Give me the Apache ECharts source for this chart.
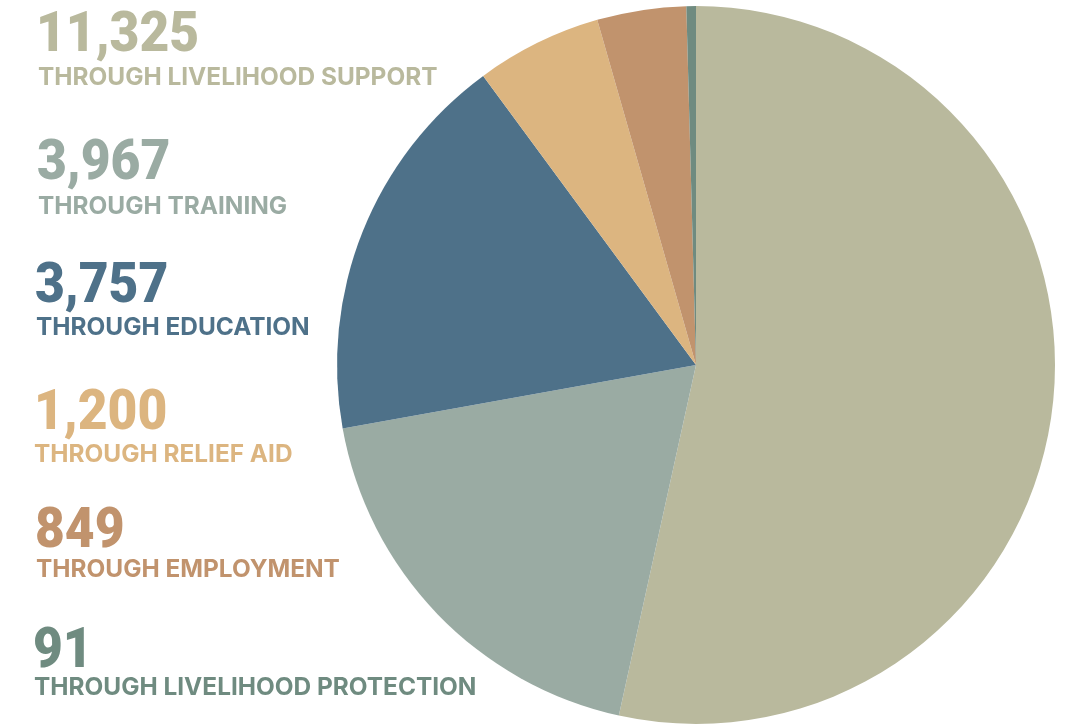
<!DOCTYPE html>
<html>
<head>
<meta charset="utf-8">
<script src="https://cdn.jsdelivr.net/npm/echarts@6/dist/echarts.min.js"></script>
<style>
html,body{margin:0;padding:0;background:#fff;}
#main{width:1070px;height:726px;}
</style>
</head>
<body>
<div id="main"></div>
<script>
const categories = ['THROUGH LIVELIHOOD SUPPORT','THROUGH TRAINING','THROUGH EDUCATION','THROUGH RELIEF AID','THROUGH EMPLOYMENT','THROUGH LIVELIHOOD PROTECTION'];
const values = [11325, 3967, 3757, 1200, 849, 91];
const colors = ['#B9B99D','#9AABA3','#4E7189','#DCB580','#C1936D','#6F8B80'];

const chart = echarts.init(document.getElementById('main'), null, {renderer:'canvas'});

const numberTop = [13, 141, 264, 391, 509, 629];
const labelTop = [69, 198, 319, 446, 561, 679];
const numberX = [36, 37, 35, 34, 35, 33];
const labelX = [38, 38, 36, 34, 36, 34];

const graphics = [];
categories.forEach((c, i) => {
  graphics.push({
    type: 'text', x: numberX[i], y: numberTop[i] - 4, scaleX: 0.92,
    style: { text: values[i].toLocaleString('en-US'), fill: colors[i],
      font: '900 56px Roboto', verticalAlign: 'top' }
  });
  graphics.push({
    type: 'text', x: labelX[i], y: labelTop[i] - 3,
    style: { text: c, fill: colors[i], font: 'bold 24.4px Inter', verticalAlign: 'top' }
  });
});

chart.setOption({
  animation: false,
  backgroundColor: '#ffffff',
  graphic: graphics,
  series: [{
    type: 'pie',
    center: [696, 365],
    radius: 359,
    startAngle: 90,
    clockwise: true,
    label: { show: false },
    labelLine: { show: false },
    emphasis: { disabled: true },
    itemStyle: { borderWidth: 0 },
    data: categories.map((c, i) => ({ name: c, value: values[i], itemStyle: { color: colors[i] } }))
  }]
});
</script>
</body>
</html>
